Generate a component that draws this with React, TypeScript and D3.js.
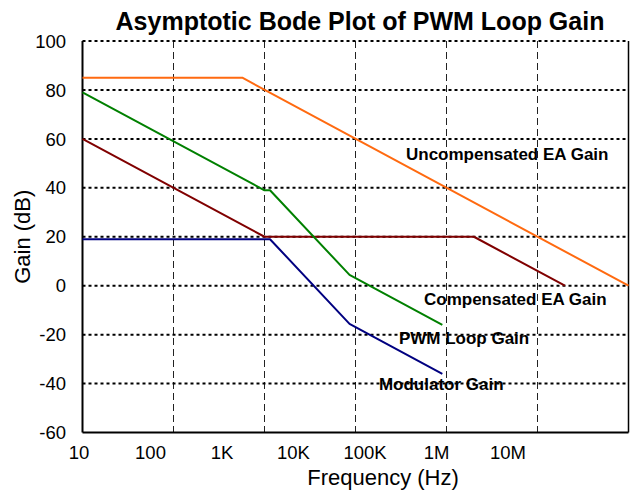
import * as d3 from 'd3';

// frequency (Hz) / gain (dB) corner points of each asymptote
const uncompEA: [number, number][] = [[10, 85], [570, 85], [1e7, 0]];
const compEA: [number, number][] = [[10, 60], [1000, 20], [200000, 20], [2000000, 0]];
const modulator: [number, number][] = [[10, 19], [1150, 19], [8600, -15.6], [90000, -36]];
const loopGain: [number, number][] = [[10, 79], [1000, 39], [1150, 39], [8600, 4.4], [90000, -16]];

const yTicks = [100, 80, 60, 40, 20, 0, -20, -40, -60];
const xGrid = [100, 1000, 10000, 100000, 1000000];
const xTickLabels = ['10', '100', '1K', '10K', '100K', '1M', '10M'];
const xTickValues = [10, 100, 1e3, 1e4, 1e5, 1e6, 1e7];

const seriesLabels = [
  { text: 'Uncompensated EA Gain', f: 35900, db: 51.4 },
  { text: 'Compensated EA Gain', f: 56600, db: -7.9 },
  { text: 'PWM Loop Gain', f: 30000, db: -23.8 },
  { text: 'Modulator Gain', f: 18100, db: -42.6 },
];

const W = 633;
const H = 494;
const left = 82.5;
const right = 628.5;
const top = 41;
const bottom = 432.5;

export default function App() {
  const x = d3.scaleLog().domain([10, 1e7]).range([left, right]);
  const y = d3.scaleLinear().domain([-60, 100]).range([bottom, top]);
  // tick labels sit on their own spacing, not on the grid lines
  const xLab = d3.scaleLog().domain([10, 1e7]).range([79, 508]);

  const line = d3
    .line<[number, number]>()
    .x((d) => x(d[0]))
    .y((d) => y(d[1]));

  const series = [
    { data: uncompEA, color: '#FF6A10' },
    { data: compEA, color: '#800000' },
    { data: loopGain, color: '#008000' },
    { data: modulator, color: '#000080' },
  ];

  const font = 'Arial, "Liberation Sans", sans-serif';

  return (
    <svg width={W} height={H} style={{ position: 'absolute', left: 0, top: 0, background: '#fff' }} fontFamily={font}>
      <text x={360} y={30} textAnchor="middle" fontSize={25} fontWeight="bold">
        Asymptotic Bode Plot of PWM Loop Gain
      </text>

      {/* vertical dashed grid */}
      {xGrid.map((f) => (
        <line key={f} x1={x(f)} x2={x(f)} y1={top} y2={bottom} stroke="#222" strokeWidth={1} strokeDasharray="7,4" />
      ))}
      {/* horizontal dotted grid */}
      {yTicks.filter((v) => v > -60).map((v) => (
        <line key={v} x1={left} x2={right} y1={y(v)} y2={y(v)} stroke="#000" strokeWidth={2} strokeDasharray="3,3" />
      ))}

      {/* frame */}
      <line x1={left} x2={left} y1={top} y2={bottom} stroke="#000" strokeWidth={2} />
      <line x1={right} x2={right} y1={top} y2={bottom} stroke="#000" strokeWidth={1.5} />
      <line x1={left} x2={right} y1={bottom} y2={bottom} stroke="#000" strokeWidth={2} />

      {series.map((s, i) => (
        <path key={i} d={line(s.data) ?? ''} fill="none" stroke={s.color} strokeWidth={2} strokeLinejoin="round" />
      ))}

      {seriesLabels.map((l) => (
        <text key={l.text} x={x(l.f)} y={y(l.db)} fontSize={17} fontWeight="bold">
          {l.text}
        </text>
      ))}

      {yTicks.map((v) => (
        <text key={v} x={66} y={y(v)} dy="0.36em" textAnchor="end" fontSize={18.5}>
          {v}
        </text>
      ))}
      {xTickValues.map((f, i) => (
        <text key={f} x={xLab(f)} y={459} textAnchor="middle" fontSize={18.5}>
          {xTickLabels[i]}
        </text>
      ))}

      <text x={383} y={485} textAnchor="middle" fontSize={22}>
        Frequency (Hz)
      </text>
      <text transform={`translate(30,${(top + bottom) / 2}) rotate(-90)`} textAnchor="middle" fontSize={22}>
        Gain (dB)
      </text>
    </svg>
  );
}
